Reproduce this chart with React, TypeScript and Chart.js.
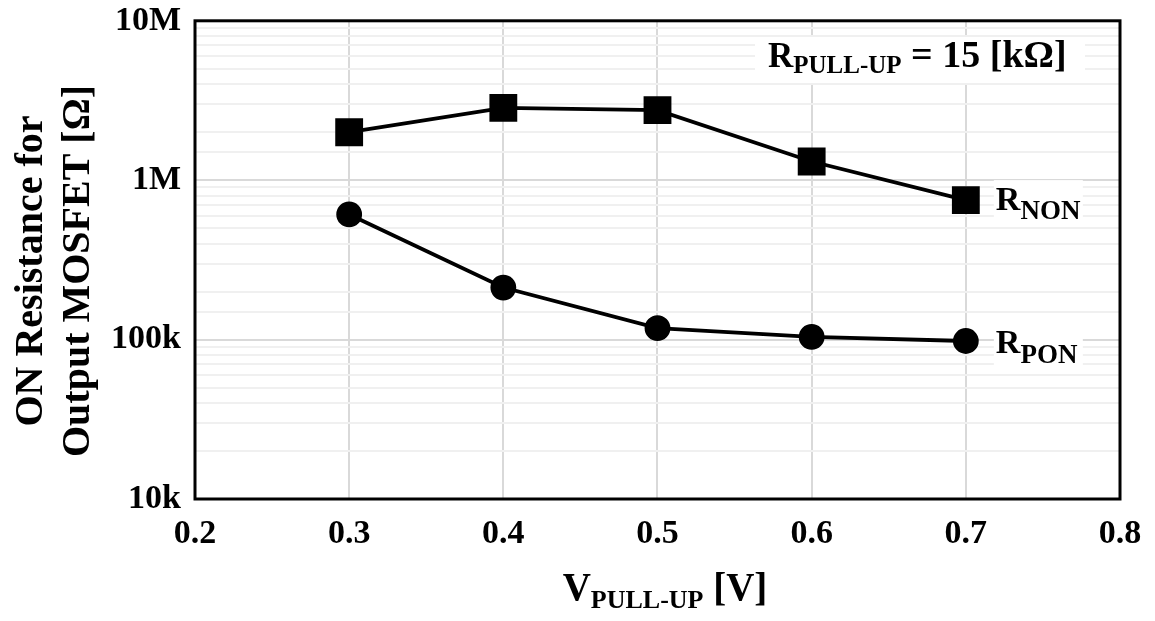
import React, { useEffect, useRef } from "react";
import { Chart, registerables } from "chart.js";

Chart.register(...registerables);

const xValues = [0.3, 0.4, 0.5, 0.6, 0.7];
const rNon = [2.0e6, 2.84e6, 2.75e6, 1.31e6, 7.5e5];
const rPon = [6.1e5, 2.12e5, 1.18e5, 1.04e5, 9.8e4];
const yMajorTicks = [1e4, 1e5, 1e6, 1e7];
const yTickLabels = ["10k", "100k", "1M", "10M"];
const xTickLabels = ["0.2", "0.3", "0.4", "0.5", "0.6", "0.7", "0.8"];

const FONT = "'Liberation Serif', 'Times New Roman', serif";

function drawSub(ctx: CanvasRenderingContext2D, x: number, y: number, main: string, sub: string, rest: string, size: number, subSize: number, subOff: number, restSize?: number) {
  ctx.font = `bold ${size}px ${FONT}`;
  ctx.fillText(main, x, y);
  let w = ctx.measureText(main).width;
  ctx.font = `bold ${subSize}px ${FONT}`;
  ctx.fillText(sub, x + w, y + subOff);
  w += ctx.measureText(sub).width;
  ctx.font = `bold ${restSize || size}px ${FONT}`;
  ctx.fillText(rest, x + w, y);
}

function measureSub(ctx: CanvasRenderingContext2D, main: string, sub: string, rest: string, size: number, subSize: number) {
  ctx.font = `bold ${size}px ${FONT}`;
  let w = ctx.measureText(main).width + ctx.measureText(rest).width;
  ctx.font = `bold ${subSize}px ${FONT}`;
  w += ctx.measureText(sub).width;
  return w;
}

const overlay = {
  id: "overlay",
  afterDraw(chart: any) {
    const ctx = chart.ctx as CanvasRenderingContext2D;
    const a = chart.chartArea;
    const xs = chart.scales.x;
    const ys = chart.scales.y;
    ctx.save();
    // frame
    ctx.strokeStyle = "#000";
    ctx.lineWidth = 3;
    ctx.strokeRect(a.left, a.top, a.right - a.left, a.bottom - a.top);

    ctx.fillStyle = "#000";
    ctx.textBaseline = "alphabetic";
    ctx.textAlign = "left";

    // annotation box
    ctx.fillStyle = "#fff";
    ctx.fillRect(755, 37, 330, 46);
    ctx.fillStyle = "#000";
    drawSub(ctx, 768, 67, "R", "PULL-UP", " = 15 [kΩ]", 35, 25, 6, 38);

    // series labels
    const lx = xs.getPixelForValue(0.7) + 30;
    const yN = ys.getPixelForValue(rNon[4]);
    const yP = ys.getPixelForValue(rPon[4]);
    ctx.fillStyle = "#fff";
    ctx.fillRect(lx - 2, yN - 20, 89, 40);
    ctx.fillRect(lx - 2, yP - 16, 89, 42);
    ctx.fillStyle = "#000";
    drawSub(ctx, lx, yN + 10, "R", "NON", "", 34, 27, 9);
    drawSub(ctx, lx, yP + 12, "R", "PON", "", 34, 27, 10);

    // x title
    const tW = measureSub(ctx, "V", "PULL-UP", " [V]", 39, 26);
    const tx = 665 - tW / 2;
    drawSub(ctx, tx, 600, "V", "PULL-UP", " [V]", 39, 26, 8);

    // y title
    ctx.translate(0, 271);
    ctx.rotate(-Math.PI / 2);
    ctx.textAlign = "center";
    ctx.font = `bold 40px ${FONT}`;
    ctx.fillText("ON Resistance for", 0, 42);
    ctx.fillText("Output MOSFET [Ω]", 0, 89);
    ctx.restore();
  },
};

export default function App() {
  const ref = useRef<HTMLCanvasElement>(null);
  useEffect(() => {
    document.body.style.margin = "0";
    const chart = new Chart(ref.current!, {
      type: "line",
      data: {
        datasets: [
          {
            label: "RNON",
            data: xValues.map((x, i) => ({ x, y: rNon[i] })),
            borderColor: "#000",
            backgroundColor: "#000",
            borderWidth: 3.8,
            pointStyle: "rect",
            pointRadius: 17,
            pointHoverRadius: 17,
            tension: 0,
          },
          {
            label: "RPON",
            data: xValues.map((x, i) => ({ x, y: rPon[i] })),
            borderColor: "#000",
            backgroundColor: "#000",
            borderWidth: 3.8,
            pointStyle: "circle",
            pointRadius: 11,
            pointHoverRadius: 11,
            tension: 0,
          },
        ],
      },
      options: {
        animation: false,
        responsive: false,
        events: [],
        layout: { padding: { left: 0, top: 20, right: 35, bottom: 0 } },
        plugins: { legend: { display: false }, tooltip: { enabled: false } },
        scales: {
          x: {
            type: "linear",
            min: 0.2,
            max: 0.8,
            afterFit: (s: any) => { s.height = 122; s.paddingLeft = 0; s.paddingRight = 0; },
            afterBuildTicks: (s: any) => {
              s.ticks = xTickLabels.map((t) => ({ value: parseFloat(t) }));
            },
            ticks: {
              padding: 15,
              color: "#000",
              maxRotation: 0,
              font: { family: FONT, size: 34, weight: "bold" },
              callback: (v: any) => {
                const idx = xTickLabels.findIndex((t) => Math.abs(parseFloat(t) - v) < 1e-6);
                return idx >= 0 ? xTickLabels[idx] : "";
              },
            },
            grid: { color: "#d9d9d9", lineWidth: 2, drawTicks: false },
            border: { display: false },
          },
          y: {
            type: "logarithmic",
            min: 1e4,
            max: 1e7,
            afterFit: (s: any) => { s.width = 195; s.paddingTop = 0; s.paddingBottom = 0; },
            ticks: {
              padding: 14,
              color: "#000",
              autoSkip: false,
              font: { family: FONT, size: 34, weight: "bold" },
              callback: (v: any) => {
                const idx = yMajorTicks.findIndex((t) => Math.abs(t - v) / t < 1e-6);
                return idx >= 0 ? yTickLabels[idx] : "";
              },
            },
            grid: {
              drawTicks: false,
              lineWidth: 2,
              color: (c: any) => {
                const v = c.tick ? c.tick.value : 0;
                return yMajorTicks.some((t) => Math.abs(t - v) / t < 1e-6) ? "#d9d9d9" : "#f0f0f0";
              },
            },
            border: { display: false },
          },
        },
      },
      plugins: [overlay],
    } as any);
    return () => chart.destroy();
  }, []);
  return <canvas ref={ref} width={1155} height={621} style={{ display: "block" }} />;
}
